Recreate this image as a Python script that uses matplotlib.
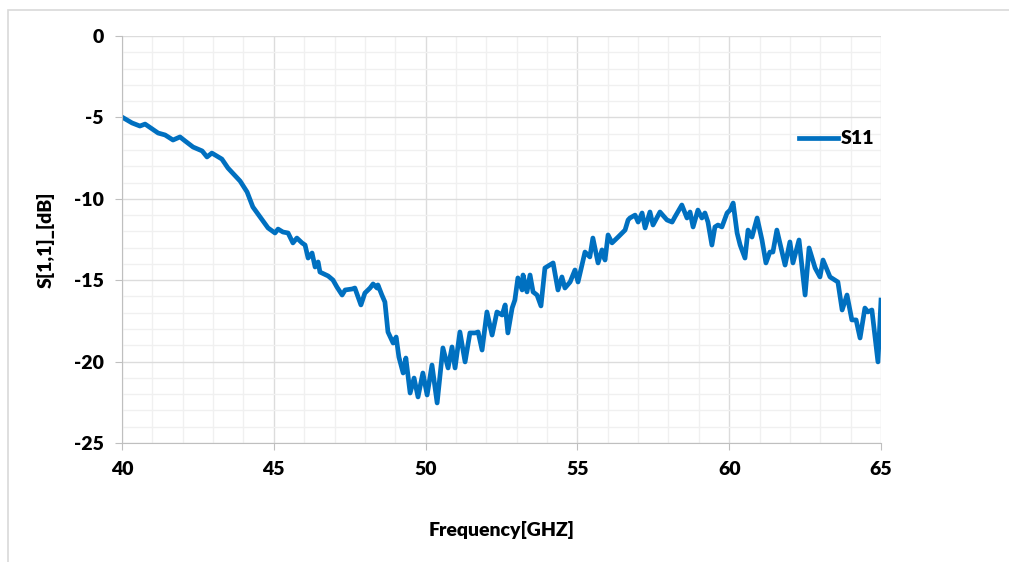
import matplotlib
matplotlib.use("Agg")
import matplotlib.pyplot as plt
from matplotlib.patches import Rectangle
from matplotlib.ticker import MultipleLocator

# S11 trace (frequency in GHz, magnitude in dB)
freq = [
    40.00, 40.33, 40.59, 40.76, 41.19, 41.42, 41.68, 41.91, 42.08, 42.34,
    42.64, 42.80, 42.96, 43.29, 43.49, 43.89, 44.12, 44.31, 44.55, 44.81,
    45.04, 45.14, 45.30, 45.47, 45.63, 45.76, 45.93, 46.03, 46.13, 46.26,
    46.36, 46.46, 46.52, 46.79, 46.95, 47.08, 47.25, 47.35, 47.58, 47.67,
    47.87, 48.00, 48.17, 48.27, 48.40, 48.43, 48.56, 48.66, 48.76, 48.93,
    49.03, 49.12, 49.26, 49.35, 49.49, 49.62, 49.75, 49.91, 50.05, 50.21,
    50.38, 50.57, 50.74, 50.87, 50.97, 51.13, 51.30, 51.46, 51.63, 51.73,
    51.86, 52.02, 52.19, 52.35, 52.52, 52.62, 52.71, 52.85, 52.94, 53.04,
    53.18, 53.21, 53.34, 53.44, 53.54, 53.67, 53.80, 53.93, 54.20, 54.36,
    54.49, 54.59, 54.76, 54.92, 55.02, 55.25, 55.41, 55.51, 55.68, 55.81,
    55.91, 56.01, 56.14, 56.34, 56.57, 56.67, 56.73, 56.90, 57.00, 57.13,
    57.23, 57.39, 57.49, 57.72, 57.95, 58.12, 58.21, 58.44, 58.61, 58.71,
    58.81, 58.97, 59.10, 59.20, 59.30, 59.43, 59.53, 59.63, 59.76, 59.93,
    60.03, 60.13, 60.26, 60.36, 60.52, 60.62, 60.75, 60.92, 61.08, 61.21,
    61.34, 61.44, 61.57, 61.84, 62.00, 62.10, 62.30, 62.50, 62.63, 62.83,
    62.99, 63.09, 63.32, 63.58, 63.72, 63.88, 64.04, 64.18, 64.31, 64.47,
    64.57, 64.70, 64.90, 65.00,
]
s11 = [
    -4.98, -5.34, -5.53, -5.41, -5.96, -6.08, -6.39, -6.20, -6.45, -6.82,
    -7.06, -7.43, -7.19, -7.56, -8.11, -8.91, -9.58, -10.50, -11.12, -11.79,
    -12.10, -11.86, -12.04, -12.10, -12.71, -12.41, -12.71, -12.84, -13.64, -13.33,
    -14.19, -13.88, -14.50, -14.74, -14.99, -15.42, -15.91, -15.60, -15.54, -15.48,
    -16.52, -15.79, -15.48, -15.23, -15.48, -15.29, -15.91, -16.34, -18.18, -18.86,
    -18.49, -19.72, -20.70, -19.78, -21.93, -21.01, -22.17, -20.70, -22.05, -20.21,
    -22.54, -19.16, -20.39, -19.10, -20.39, -18.18, -20.02, -18.24, -18.24, -18.18,
    -19.29, -16.95, -18.37, -16.95, -17.14, -16.52, -18.24, -16.71, -16.22, -14.86,
    -15.60, -14.68, -15.72, -14.68, -15.72, -15.91, -16.58, -14.25, -13.94, -15.60,
    -14.80, -15.48, -15.11, -14.37, -15.11, -13.27, -13.57, -12.41, -13.94, -13.14,
    -13.76, -12.22, -12.71, -12.35, -11.92, -11.30, -11.18, -11.00, -11.43, -10.87,
    -11.79, -10.81, -11.61, -10.81, -11.30, -11.43, -11.12, -10.38, -11.18, -10.81,
    -11.73, -10.69, -11.18, -10.87, -11.43, -12.84, -11.73, -11.61, -11.73, -10.87,
    -10.69, -10.26, -12.10, -12.84, -13.64, -11.92, -12.35, -11.18, -12.53, -13.94,
    -13.27, -13.27, -11.92, -14.07, -12.65, -13.94, -12.53, -15.91, -13.02, -14.25,
    -14.80, -13.76, -14.80, -15.11, -16.83, -15.91, -17.44, -17.44, -18.55, -16.71,
    -16.95, -16.83, -20.02, -16.22,
]

xticks = [40, 45, 50, 55, 60, 65]
yticks = [0, -5, -10, -15, -20, -25]

plt.rcParams["font.family"] = ["Lato", "DejaVu Sans"]
plt.rcParams["font.weight"] = "heavy"
plt.rcParams["axes.unicode_minus"] = False

fig = plt.figure(figsize=(10.09, 5.62), dpi=100)

# light outer chart border (left and top edges visible)
fig.patches.append(Rectangle((8 / 1009, -0.05), 1.2, 1 - 10 / 562 + 0.05,
                             transform=fig.transFigure, fill=False,
                             edgecolor="#D9D9D9", linewidth=1.2))

ax = fig.add_axes([122 / 1009, 1 - 443 / 562, 759 / 1009, 407 / 562])
ax.plot(freq, s11, color="#0070C0", linewidth=3.4, label="S11",
        solid_joinstyle="round")

ax.set_xlim(40, 65)
ax.set_ylim(-25, 0)
ax.set_xticks(xticks)
ax.set_yticks(yticks)
ax.xaxis.set_minor_locator(MultipleLocator(1))
ax.yaxis.set_minor_locator(MultipleLocator(1))
ax.grid(which="major", color="#DCDCDC", linewidth=1.0)
ax.grid(which="minor", color="#F0F0F0", linewidth=1.0)
ax.set_axisbelow(True)

for side in ["top", "right"]:
    ax.spines[side].set_visible(False)
for side in ["left", "bottom"]:
    ax.spines[side].set_color("#BFBFBF")

ax.tick_params(which="major", length=5, color="#BFBFBF", labelsize=14,
               labelcolor="black", pad=8)
ax.tick_params(which="minor", length=0)

ax.set_xlabel("Frequency[GHZ]", fontsize=14, fontweight="heavy", labelpad=31)
ax.set_ylabel("S[1,1]_[dB]", fontsize=14, fontweight="heavy", labelpad=14)

ax.legend(loc="center left", bbox_to_anchor=(0.869, 0.747), frameon=False,
          fontsize=14, handlelength=2.0, handletextpad=0.15)

fig.savefig("out.png", dpi=100)
